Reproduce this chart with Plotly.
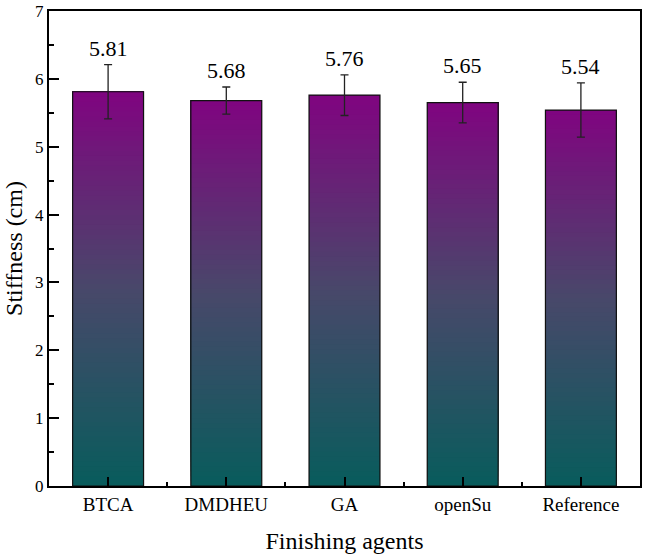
import plotly.graph_objects as go

categories = ["BTCA", "DMDHEU", "GA", "openSu", "Reference"]
stiffness = [5.81, 5.68, 5.76, 5.65, 5.54]
errors = [0.40, 0.20, 0.30, 0.30, 0.40]
y_ticks = [0, 1, 2, 3, 4, 5, 6, 7]

FONT = "Liberation Serif, Times New Roman, Times, serif"
N_SEG = 80
stops = [(0.0, (8, 92, 92)), (0.5, (72, 72, 106)), (1.0, (128, 4, 128))]


def grad_color(t):
    for (t0, c0), (t1, c1) in zip(stops[:-1], stops[1:]):
        if t <= t1:
            f = (t - t0) / (t1 - t0) if t1 > t0 else 0
            return "rgb(%d,%d,%d)" % tuple(round(a + (b - a) * f) for a, b in zip(c0, c1))
    return "rgb(%d,%d,%d)" % stops[-1][1]


x_idx = list(range(len(categories)))
fig = go.Figure()

# gradient fill: overlaid bar slices, each higher slice drawn over the lower ones
for k in range(N_SEG):
    frac = k / N_SEG
    fig.add_trace(go.Bar(
        x=x_idx,
        base=[v * frac for v in stiffness],
        y=[v * (1 - frac) for v in stiffness],
        marker=dict(color=grad_color((k + 0.5) / N_SEG), line=dict(width=0)),
        width=0.6,
        hoverinfo="skip",
        showlegend=False,
    ))

# outline + error bars
fig.add_trace(go.Bar(
    x=x_idx,
    y=stiffness,
    marker=dict(color="rgba(0,0,0,0)", line=dict(color="#111111", width=1.2)),
    width=0.6,
    error_y=dict(type="data", array=errors, visible=True, color="#222222",
                 thickness=1.3, width=4),
    showlegend=False,
))

for i, (v, e) in enumerate(zip(stiffness, errors)):
    fig.add_annotation(x=i, y=v + e, text="%.2f" % v, showarrow=False,
                       yanchor="bottom", yshift=2,
                       font=dict(family=FONT, size=22, color="black"))

fig.update_layout(
    barmode="overlay",
    width=645, height=556,
    margin=dict(l=49, r=5, t=11, b=70),
    paper_bgcolor="white", plot_bgcolor="white",
    font=dict(family=FONT, color="black"),
    xaxis=dict(
        range=[-0.5, len(categories) - 0.5],
        tickmode="array", tickvals=x_idx, ticktext=categories,
        tickfont=dict(family=FONT, size=19),
        ticks="inside", ticklen=9, tickwidth=2, tickcolor="black",
        minor=dict(ticks="inside", ticklen=4, tickwidth=1.5, tickcolor="black",
                   tick0=0.5, dtick=1),
        showline=True, linecolor="black", linewidth=2, mirror=True,
        showgrid=False, zeroline=False, automargin=False,
        ticklabeloverflow="allow",
        title=dict(text="Finishing agents", font=dict(family=FONT, size=24), standoff=18),
    ),
    yaxis=dict(
        range=[0, 7],
        tickmode="array", tickvals=y_ticks,
        tickfont=dict(family=FONT, size=17),
        ticks="inside", ticklen=10, tickwidth=2, tickcolor="black",
        minor=dict(ticks="inside", ticklen=5, tickwidth=1.5, tickcolor="black",
                   tick0=0, dtick=0.5),
        showline=True, linecolor="black", linewidth=2, mirror=True,
        showgrid=False, zeroline=False, automargin=False,
        ticklabeloverflow="allow",
        title=dict(text="Stiffness (cm)", font=dict(family=FONT, size=24), standoff=6),
    ),
)

fig.write_html(
    "out.html",
    config={"displayModeBar": False},
    post_script="document.body.style.margin='0';document.body.style.overflow='hidden';",
)
